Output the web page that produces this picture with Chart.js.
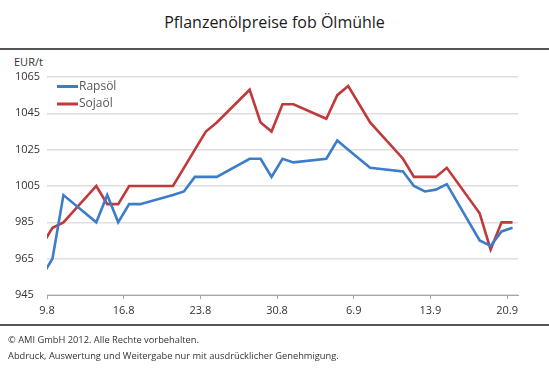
<!DOCTYPE html>
<html>
<head>
<meta charset="utf-8">
<script src="https://cdn.jsdelivr.net/npm/chart.js@4.4.1/dist/chart.umd.min.js"></script>
<style>
  html, body { margin:0; padding:0; background:#fff; }
  body { width:549px; height:374px; position:relative; overflow:hidden; font-family:"Open Sans", sans-serif; }
  #title { position:absolute; left:0; width:549px; top:11px; text-align:center; font-size:16px; color:#1a1a1a; }
  .rule { position:absolute; left:0; width:549px; height:2px; background:#555; }
  #unit { position:absolute; left:14px; top:54px; font-size:11px; color:#333; }
  #foot { position:absolute; left:8px; top:332px; font-size:9.3px; line-height:16px; color:#333; }
  #wrap { position:absolute; left:0; top:0; width:549px; height:374px; }
</style>
</head>
<body>
<div id="title">Pflanzenölpreise fob Ölmühle</div>
<div class="rule" style="top:48px"></div>
<div id="unit">EUR/t</div>
<div id="wrap"><canvas id="c" width="549" height="374"></canvas></div>
<div class="rule" style="top:324px"></div>
<div id="foot">© AMI GmbH 2012. Alle Rechte vorbehalten.<br>Abdruck, Auswertung und Weitergabe nur mit ausdrücklicher Genehmigung.</div>
<script>
// Dates (day.month, 2012) of the observations
const dates = ['8.8','9.8','10.8','13.8','14.8','15.8','16.8','17.8','20.8','21.8','22.8','23.8','24.8','27.8','28.8','29.8','30.8','31.8','3.9','4.9','5.9','7.9','10.9','11.9','12.9','13.9','14.9','17.9','18.9','19.9','20.9'];
const rapsoel = [955,965,1000,985,1000,985,995,995,1000,1002,1010,1010,1010,1020,1020,1010,1020,1018,1020,1030,1025,1015,1013,1005,1002,1003,1006,975,972,980,982];
const sojaoel = [972,982,985,1005,995,995,1005,1005,1005,1015,1025,1035,1040,1058,1040,1035,1050,1050,1042,1055,1060,1040,1020,1010,1010,1010,1015,990,970,985,985];
const tickLabels = ['9.8','16.8','23.8','30.8','6.9','13.9','20.9'];
const yTicks = [945,965,985,1005,1025,1045,1065];
const seriesNames = ['Rapsöl','Sojaöl'];
const colors = ['#3d7cc9','#c0393b'];

const start = new Date(2012,7,9);
function dayIndex(s){ const [d,m]=s.split('.').map(Number); return Math.round((new Date(2012,m-1,d)-start)/86400000); }
const xs = dates.map(d => dayIndex(d) + 0.5); // each observation drawn at the middle of its day
const tickPos = tickLabels.map(dayIndex);

const legendPlugin = {
  id:'inlegend',
  afterDatasetsDraw(chart){
    const ctx = chart.ctx, ca = chart.chartArea;
    ctx.save();
    chart.data.datasets.forEach((ds,i)=>{
      const y = ca.top + 9.5 + i*17.5;
      const x0 = ca.left + 10;
      ctx.strokeStyle = ds.borderColor; ctx.lineWidth = 3;
      ctx.beginPath(); ctx.moveTo(x0,y); ctx.lineTo(x0+21,y); ctx.stroke();
      ctx.fillStyle = '#595959'; ctx.font = '12px "Open Sans"'; ctx.textBaseline='middle'; ctx.textAlign='left';
      ctx.fillText(ds.label, x0+22, y);
    });
    ctx.restore();
  }
};

new Chart(document.getElementById('c'), {
  type:'line',
  data:{
    datasets: [rapsoel, sojaoel].map((vals,i)=>({
      label: seriesNames[i],
      data: vals.map((v,j)=>({x:xs[j], y:v})),
      borderColor: colors[i], backgroundColor: colors[i],
      borderWidth: 2.6, pointRadius:0, tension:0, fill:false
    }))
  },
  options:{
    responsive:false, animation:false,
    layout:{ padding:{ left:15, right:31, top:77, bottom:56 } },
    plugins:{ legend:{display:false}, tooltip:{enabled:false}, title:{display:false} },
    scales:{
      x:{
        type:'linear', min:0, max:43,
        afterBuildTicks(s){ s.ticks = tickPos.map(v=>({value:v})); },
        ticks:{ callback:(v,i)=>tickLabels[i], color:'#333', font:{family:'Open Sans', size:11}, padding:5, maxRotation:0, autoSkip:false },
        grid:{ drawOnChartArea:false, drawTicks:true, tickLength:4, color:'#a6a6a6' },
        border:{ color:'#a6a6a6', width:1 },
        afterFit(s){ s.height = 23; }
      },
      y:{
        min:945, max:1065,
        afterBuildTicks(s){ s.ticks = yTicks.map(v=>({value:v})); },
        ticks:{ callback:(v)=>String(v), color:'#333', font:{family:'Open Sans', size:11}, crossAlign:'far', padding:4 },
        grid:{ color:'#dedede', lineWidth:1.5, drawTicks:false },
        border:{ display:false },
        afterFit(s){ s.width = 32; }
      }
    }
  },
  plugins:[legendPlugin]
});
</script>
</body>
</html>
